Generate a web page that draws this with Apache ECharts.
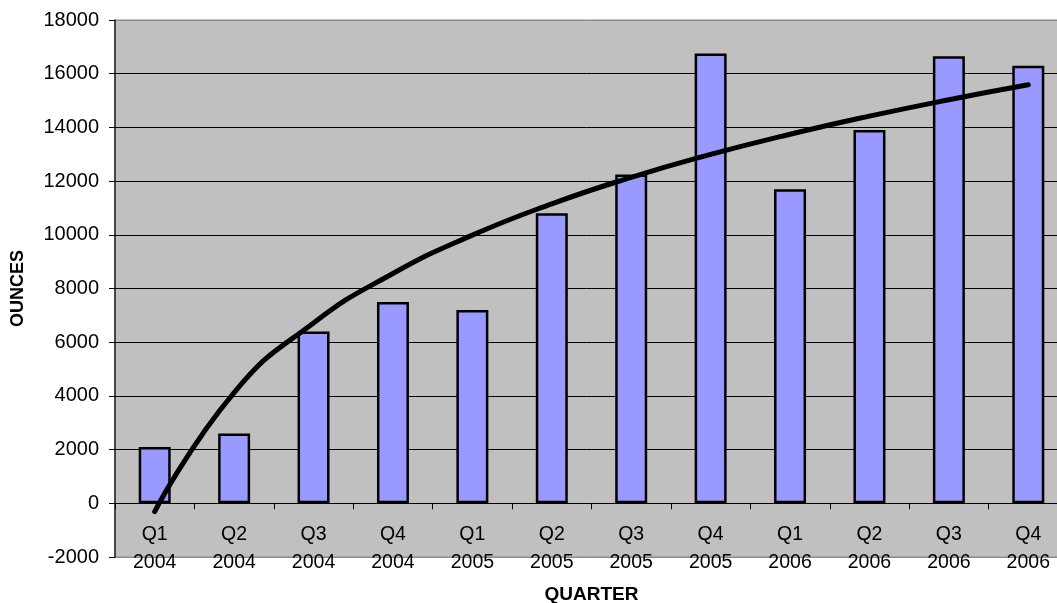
<!DOCTYPE html>
<html>
<head>
<meta charset="utf-8">
<script src="https://cdn.jsdelivr.net/npm/echarts@6/dist/echarts.min.js"></script>
<style>
  html, body { margin: 0; padding: 0; background: #fff; }
  #chart { width: 1057px; height: 603px; }
</style>
</head>
<body>
<div id="chart"></div>
<script>
// data
const quarters = ["Q1", "Q2", "Q3", "Q4", "Q1", "Q2", "Q3", "Q4", "Q1", "Q2", "Q3", "Q4"];
const years = ["2004", "2004", "2004", "2004", "2005", "2005", "2005", "2005", "2006", "2006", "2006", "2006"];
const ounces = [2100, 2600, 6400, 7500, 7200, 10800, 12250, 16750, 11700, 13900, 16650, 16300];

const yMin = -2000;
const yMax = 18000;
const yStep = 2000;

// logarithmic trendline fitted to the bars (y = a*ln(x) + b), same as excel does
function logTrend(values) {
  const n = values.length;
  const lx = values.map((v, i) => Math.log(i + 1));
  const mx = lx.reduce((s, v) => s + v, 0) / n;
  const my = values.reduce((s, v) => s + v, 0) / n;
  let sxy = 0;
  let sxx = 0;
  lx.forEach((x, i) => {
    sxy += (x - mx) * (values[i] - my);
    sxx += (x - mx) * (x - mx);
  });
  const a = sxy / sxx;
  const b = my - a * mx;
  return lx.map((x) => a * x + b);
}

const categories = quarters.map((q, i) => q + "\n" + years[i]);
const trend = logTrend(ounces);

// grid lines: grey at the plot edges, black inside
const tickCount = (yMax - yMin) / yStep;
const gridColors = [];
for (let i = 0; i < tickCount; i++) {
  gridColors.push(i === 0 ? "#8c8c8c" : "#000");
}

const myChart = echarts.init(document.getElementById("chart"));

const option = {
  animation: false,
  textStyle: {
    fontFamily: "Liberation Sans, Arial, sans-serif",
  },
  grid: {
    left: 115,
    top: 20,
    right: -11,
    bottom: 46,
    show: true,
    backgroundColor: "#c0c0c0",
    borderColor: "#8c8c8c",
    borderWidth: 1,
    containLabel: false,
    outerBoundsMode: "none",
  },
  xAxis: {
    type: "category",
    data: categories,
    name: "QUARTER",
    nameLocation: "middle",
    nameGap: 28,
    nameMoveOverlap: false,
    nameTextStyle: {
      fontSize: 19,
      fontWeight: "bold",
      color: "#000",
    },
    axisLine: {
      onZero: true,
      lineStyle: { color: "#000", width: 1 },
    },
    axisTick: {
      show: true,
      length: 6,
      lineStyle: { color: "#000" },
    },
    axisLabel: {
      interval: 0,
      fontSize: 19.5,
      lineHeight: 28,
      // labels sit under the zero line, above the bottom of the plot
      margin: -36,
      color: "#000",
    },
  },
  yAxis: {
    type: "value",
    min: yMin,
    max: yMax,
    interval: yStep,
    name: "OUNCES",
    nameLocation: "middle",
    nameGap: 88,
    nameTextStyle: {
      fontSize: 18,
      fontWeight: "bold",
      color: "#000",
    },
    axisLine: {
      show: true,
      lineStyle: { color: "#222", width: 1.5 },
    },
    axisTick: {
      show: true,
      length: 6,
      lineStyle: { color: "#000" },
    },
    axisLabel: {
      fontSize: 20,
      margin: 16,
      color: "#000",
      formatter: (v) => String(v),
    },
    splitLine: {
      lineStyle: { color: gridColors, width: 1 },
    },
  },
  series: [
    {
      name: "OUNCES",
      type: "bar",
      data: ounces,
      barWidth: 32,
      itemStyle: {
        color: "#9999ff",
        borderColor: "#000",
        borderWidth: 2.5,
      },
    },
    {
      name: "Trend",
      type: "line",
      data: trend,
      smooth: true,
      symbol: "none",
      z: 5,
      lineStyle: {
        color: "#000",
        width: 5,
        cap: "round",
      },
    },
  ],
};

myChart.setOption(option);
</script>
</body>
</html>
